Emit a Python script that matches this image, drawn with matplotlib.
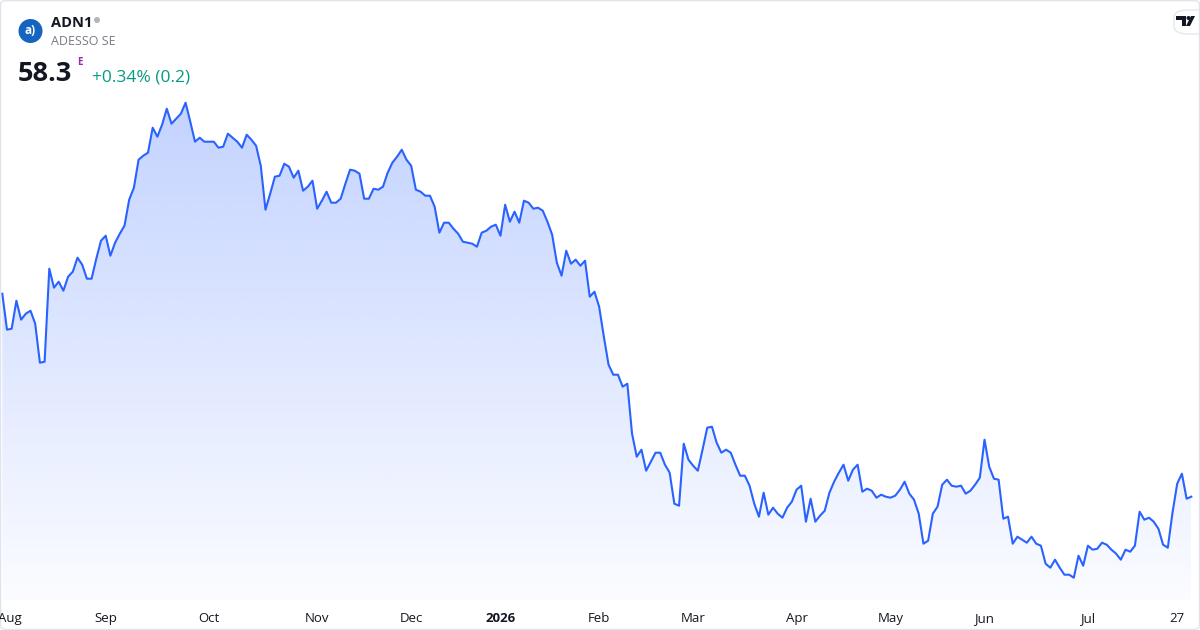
import matplotlib
matplotlib.use("Agg")
import matplotlib.pyplot as plt
import numpy as np
from matplotlib.patches import Circle, FancyBboxPatch, Polygon

plt.rcParams['font.family'] = ['Open Sans', 'DejaVu Sans']

# daily closes, ADN1, Aug 2025 -> Jul 2026
prices = [
    78.6, 75.0, 75.1, 77.9, 76.0, 76.6, 76.9, 75.6, 71.7, 71.8, 81.1, 79.2, 79.8, 78.9, 80.3,
    80.8, 82.2, 81.5, 80.1, 80.1, 82.1, 83.9, 84.4, 82.4, 83.7, 84.6, 85.4, 88.0, 89.2, 92.0,
    92.4, 92.7, 95.2, 94.3, 95.5, 97.1, 95.6, 96.1, 96.6, 97.7, 95.8, 93.8, 94.2,
    93.8, 93.8, 93.8, 93.2, 93.3, 94.6, 94.2, 93.8, 93.2, 94.5, 94.0, 93.4, 91.4, 87.0, 88.6,
    90.3, 90.4, 91.6, 91.3, 90.2, 90.9, 88.9, 89.3, 89.9, 87.1, 87.9, 88.8, 87.7, 87.7, 88.1,
    89.6, 91.0, 90.9, 90.6, 88.1, 88.1, 89.1, 89.0, 89.3, 90.7, 91.7, 92.3,
    93.0, 92.0, 91.4, 89.0, 88.8, 88.4, 88.4, 87.3, 84.7, 85.7, 85.7, 85.1, 84.6, 83.8, 83.7,
    83.6, 83.3, 84.7, 84.9, 85.3, 85.5, 84.4, 87.5, 85.8, 86.8, 85.7, 87.9, 87.7, 87.1, 87.2,
    86.9, 85.8, 84.5, 81.7, 80.4, 82.9, 81.6, 82.0, 81.4, 81.9,
    78.3, 78.8, 77.3, 74.3, 71.5, 70.5, 70.5, 69.3, 69.6, 64.6, 62.3, 63.0, 60.9, 61.8, 62.7,
    62.7, 61.5, 60.7, 57.6, 57.4, 63.6, 62.0, 61.4, 60.9, 63.0, 65.2, 65.3, 63.7, 62.7, 63.0,
    62.7, 61.5, 60.4, 60.4, 59.4, 57.6, 56.3, 58.7, 56.5, 57.2, 56.6,
    56.2, 57.2, 57.8, 59.0, 59.4, 55.8, 58.1, 55.8, 56.4, 56.9, 58.7, 59.8, 60.7, 61.5, 59.9,
    61.0, 61.5, 58.8, 59.1, 58.9, 58.2, 58.5, 58.3, 58.2, 58.4, 59.0, 59.8, 58.6, 58.0, 56.6,
    53.6, 53.9, 56.6, 57.3, 59.5, 60.0, 59.4, 59.3, 59.4, 58.6, 58.9, 59.5, 60.2,
    64.0, 61.3, 60.1, 60.0, 56.1, 56.3, 53.6, 54.3, 54.0, 53.7, 54.3, 53.6, 53.4, 51.6, 51.2,
    52.0, 51.2, 50.5, 50.5, 50.2, 52.4, 51.4, 53.4, 53.0, 53.1, 53.7, 53.5, 53.0, 52.6, 52.0,
    53.0, 52.8, 53.4, 56.8, 56.0, 56.2, 55.8, 55.1, 53.5, 53.2, 56.7, 59.6, 60.6, 58.1, 58.3,
]

# month ticks: bar index of the first session of each month
tick_idx = [2, 22, 44, 67, 87, 106, 127, 147, 169, 189, 209, 231, 250]
tick_labels = ["Aug", "Sep", "Oct", "Nov", "Dec", "2026", "Feb", "Mar", "Apr", "May", "Jun", "Jul", "27"]

symbol = "ADN1"
company = "ADESSO SE"
last_price = "58.3"
change_txt = "+0.34% (0.2)"

W, H = 1200, 630
LINE = "#2962ff"
fig = plt.figure(figsize=(W / 100, H / 100), dpi=100)
fig.patch.set_facecolor("white")

# plot pane: full width, top 600 px
ax = fig.add_axes([0, 30 / H, 1, 600 / H])
ax.set_facecolor("none")
x = np.arange(len(prices))
y = np.array(prices)

px_per_bar = 4.6996
ax.set_xlim(-2.3 / px_per_bar, len(prices) - 1 + 8.7 / px_per_bar)
ymax = 107.97
ax.set_ylim(ymax - 60, ymax)

# gradient area under the line
ybot = ax.get_ylim()[0]
poly = ax.fill_between(x, y, ybot, facecolor="none", edgecolor="none")
grad = np.zeros((256, 1, 4))
grad[:, 0, 0] = 41 / 255
grad[:, 0, 1] = 98 / 255
grad[:, 0, 2] = 1.0
grad[:, 0, 3] = np.linspace(0.28, 0.02, 256)
im = ax.imshow(grad, extent=[x[0], x[-1], ybot, y.max()], aspect="auto",
               origin="upper", zorder=1)
im.set_clip_path(poly.get_paths()[0], transform=ax.transData)

ax.plot(x, y, color=LINE, lw=1.5, zorder=3, solid_joinstyle="round")

for s in ax.spines.values():
    s.set_visible(False)
ax.set_yticks([])
ax.set_xticks([])

# x-axis labels
for i, lab in zip(tick_idx, tick_labels):
    xf = ax.transData.transform((i, 0))[0] / W
    fig.text(xf if i > 5 else 10 / W, 1 - 622 / H, lab, ha="center", va="baseline",
             fontsize=9.5, color="#131722",
             fontweight="bold" if lab == "2026" else "normal")


def fx(px):
    return px / W


def fy(py):
    return 1 - py / H


def pix_circle(cx, cy, r, color):
    # circle in pixel units (inches at 100 dpi), top-left origin
    fig.add_artist(Circle((cx / 100, (H - cy) / 100), r / 100,
                          transform=fig.dpi_scale_trans,
                          facecolor=color, edgecolor="none"))


# header
pix_circle(30.5, 31, 12, "#1565c0")
fig.text(fx(30.5), fy(31), "a)", ha="center", va="center", color="white",
         fontsize=8.5, fontweight="bold")
fig.text(fx(51), fy(27), symbol, fontsize=10.5, fontweight="bold", color="#131722")
pix_circle(97, 20, 3, "#b2b5be")
fig.text(fx(51), fy(45), company, fontsize=9, color="#787b86")
fig.text(fx(18), fy(81), last_price, fontsize=19.5, fontweight="bold", color="#131722")
fig.text(fx(77), fy(65), "E", fontsize=7, fontweight="bold", color="#9c27b0")
fig.text(fx(92), fy(81), change_txt, fontsize=12.5, color="#089981")

# tradingview badge top right
fig.add_artist(FancyBboxPatch((fx(1174), fy(34)), 40 / W, 24 / H,
                              boxstyle="round,pad=0,rounding_size=0.012",
                              transform=fig.transFigure, facecolor="white",
                              edgecolor="#e6e8ee", lw=1))
tv_t = [(1176, 16), (1186, 16), (1186, 26), (1182, 26), (1182, 20), (1176, 20)]
tv_s = [(1191, 16), (1195, 16), (1190, 26), (1186, 26)]
for pts in (tv_t, tv_s):
    fig.add_artist(Polygon([(fx(a), fy(b)) for a, b in pts], closed=True,
                           transform=fig.transFigure, facecolor="#131722",
                           edgecolor="none"))
pix_circle(1188.5, 18, 2, "#131722")

# outer frame
fig.add_artist(FancyBboxPatch((0.5 / W, 0.5 / H), 1 - 1 / W, 1 - 1 / H,
                              boxstyle="round,pad=0,rounding_size=0.006",
                              transform=fig.transFigure, facecolor="none",
                              edgecolor="#e0e3eb", lw=1))

fig.savefig("out.png", dpi=100)
